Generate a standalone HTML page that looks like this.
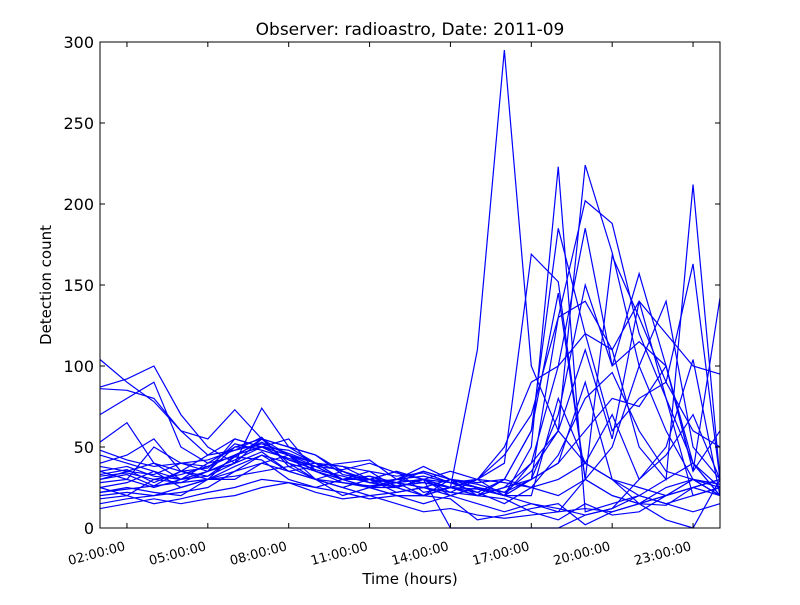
<!DOCTYPE html>
<html><head><meta charset="utf-8"><style>
body{margin:0;background:#fff;}
svg text{font-family:"DejaVu Sans","Liberation Sans",sans-serif;}
</style></head><body>
<svg id="chart" width="800" height="600">
<text x="410" y="35" font-size="17" text-anchor="middle">Observer: radioastro, Date: 2011-09</text>
<text x="410" y="584" font-size="15" text-anchor="middle">Time (hours)</text>
<text transform="translate(51,285) rotate(-90)" font-size="15" text-anchor="middle">Detection count</text>
<g id="lines"></g>
<g id="axes"></g>
</svg>
<script>
const hours=[1,2,3,4,5,6,7,8,9,10,11,12,13,14,15,16,17,18,19,20,21,22,23,24];
const yTicks=[0,50,100,150,200,250,300];
const xTickHours=[2,5,8,11,14,17,20,23];
const xTickLabels=["02:00:00","05:00:00","08:00:00","11:00:00","14:00:00","17:00:00","20:00:00","23:00:00"];
const s1=[104,90,78,60,45,55,50,45,38,30,32,28,30,25,110,295,100,60,40,30,25,20,30,25];
const s2=[87,92,100,70,50,40,74,50,45,35,30,35,30,28,30,40,169,152,30,20,15,14,25,30];
const s3=[86,85,80,60,55,73,55,45,40,38,30,28,35,30,25,20,50,223,10,15,20,30,40,20];
const s4=[70,80,90,50,40,50,55,50,40,30,35,25,30,25,20,25,40,60,224,170,100,60,30,20];
const s5=[53,65,40,35,30,45,50,55,35,30,25,30,28,25,20,30,60,185,120,110,50,30,212,30];
const s6=[45,40,35,30,35,40,55,40,30,35,28,25,30,20,25,20,30,130,202,188,120,80,20,25];
const s7=[35,30,50,40,38,45,53,45,35,30,25,28,20,25,22,30,60,145,30,168,130,90,163,30];
const s8=[30,35,33,40,42,48,56,38,40,30,30,22,25,30,25,20,40,100,185,100,157,100,35,142];
const s9=[25,20,30,28,35,50,50,45,30,25,30,25,30,22,30,45,70,130,140,110,140,120,100,95];
const s10=[22,25,22,20,30,38,45,40,35,28,25,20,20,25,30,50,90,100,120,60,80,90,60,50];
const s11=[20,22,20,22,25,35,45,35,30,25,20,22,25,20,25,20,20,80,40,70,30,45,70,30];
const s12=[15,18,20,25,30,30,40,35,30,20,25,25,20,30,20,25,30,40,60,80,75,100,40,25];
const s13=[33,36,28,35,45,48,52,46,40,35,28,30,35,30,28,30,25,20,30,50,100,140,50,30];
const s14=[38,35,40,30,32,40,47,35,38,40,42,30,38,30,27,22,35,60,110,55,140,80,40,20];
const s15=[28,30,25,30,40,44,42,30,25,30,30,28,30,35,30,20,30,40,90,30,15,20,30,20];
const s16=[18,20,15,18,22,25,30,28,25,22,18,20,15,20,15,10,15,10,30,20,15,25,30,20];
const s17=[12,15,18,15,18,20,25,28,22,18,20,15,10,12,8,6,8,10,12,10,15,20,25,30];
const s18=[30,33,26,35,37,52,48,43,38,30,32,26,28,25,24,20,15,12,8,12,20,15,20,25];
const s19=[40,45,55,35,32,44,55,50,45,33,30,35,22,25,30,28,25,30,40,30,20,15,10,15];
const s20=[48,42,38,40,35,42,50,48,40,38,35,32,34,28,22,15,25,45,80,96,60,35,30,27];
const s21=[25,28,35,25,30,35,40,45,35,30,25,20,20,18,5,8,12,15,2,10,15,5,0,30];
const s22=[35,38,32,30,35,55,50,42,38,36,40,34,30,0,0,0,0,0,8,12,30,50,104,20];
const s23=[22,24,26,28,30,32,35,38,30,28,26,28,25,22,20,18,10,5,15,8,10,20,25,20];
const s24=[32,34,30,33,38,45,50,42,36,32,28,30,32,28,25,22,30,70,150,100,115,100,35,60];
const series=[s1,s2,s3,s4,s5,s6,s7,s8,s9,s10,s11,s12,s13,s14,s15,s16,s17,s18,s19,s20,s21,s22,s23,s24];

const L=100,R=720,T=42,B=528;
const x=h=>L+(h-1)/(24-1)*(R-L);
const y=v=>B-v/300*(B-T);
const NS="http://www.w3.org/2000/svg";
const lines=document.getElementById('lines');
series.forEach((s,i)=>{
  const p=document.createElementNS(NS,'polyline');
  p.setAttribute('points',s.map((v,j)=>x(hours[j])+','+y(v)).join(' '));
  p.setAttribute('fill','none');p.setAttribute('stroke','#0000ff');p.setAttribute('stroke-width','1.2');
  
  
  lines.appendChild(p);
});
const axes=document.getElementById('axes');
const frame=document.createElementNS(NS,'rect');
frame.setAttribute('x',L);frame.setAttribute('y',T);frame.setAttribute('width',R-L);frame.setAttribute('height',B-T);
frame.setAttribute('fill','none');frame.setAttribute('stroke','#000');frame.setAttribute('stroke-width','1');


axes.appendChild(frame);
yTicks.forEach(v=>{
  [[L,L+5],[R,R-5]].forEach(([a,b])=>{
    const t=document.createElementNS(NS,'line');
    t.setAttribute('x1',a);t.setAttribute('x2',b);t.setAttribute('y1',y(v));t.setAttribute('y2',y(v));t.setAttribute('stroke','#000');
    
    
    axes.appendChild(t);
  });
  const tx=document.createElementNS(NS,'text');
  tx.setAttribute('x',L-6);tx.setAttribute('y',y(v)+6);tx.setAttribute('font-size','16');tx.setAttribute('text-anchor','end');
  tx.textContent=v;
  
  
  axes.appendChild(tx);
});
xTickHours.forEach((h,i)=>{
  [[B,B-5],[T,T+5]].forEach(([a,b])=>{
    const t=document.createElementNS(NS,'line');
    t.setAttribute('x1',x(h));t.setAttribute('x2',x(h));t.setAttribute('y1',a);t.setAttribute('y2',b);t.setAttribute('stroke','#000');
    
    
    axes.appendChild(t);
  });
  const tx=document.createElementNS(NS,'text');
  tx.setAttribute('transform','translate('+(x(h)-1)+','+(B+22)+') rotate(-15)');
  tx.setAttribute('font-size','13');tx.setAttribute('text-anchor','end');
  tx.textContent=xTickLabels[i];
  
  
  axes.appendChild(tx);
});
</script>
</body></html>
